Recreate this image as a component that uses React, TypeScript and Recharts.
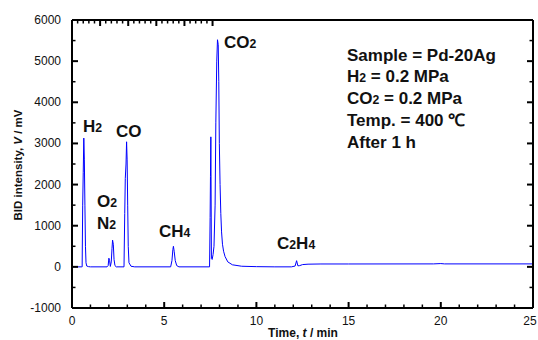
import { Line, LineChart, XAxis, YAxis } from 'recharts'

const TIME_MIN = [
  0, 0.5, 0.55, 0.58, 0.61, 0.64, 0.67, 0.7, 0.73, 0.76, 0.8, 0.9, 1.0,
  1.9, 1.96, 2.0, 2.04, 2.08, 2.13, 2.17, 2.2, 2.24, 2.28, 2.33, 2.4,
  2.82, 2.86, 2.89, 2.93, 2.96, 2.99, 3.02, 3.05, 3.09, 3.2, 3.4,
  5.35, 5.42, 5.47, 5.5, 5.54, 5.6, 5.68, 5.8,
  7.46, 7.49, 7.51, 7.53, 7.56, 7.6, 7.65, 7.7, 7.76, 7.8, 7.85, 7.89, 7.93, 7.96, 7.99,
  8.03, 8.07, 8.11, 8.16, 8.22, 8.3, 8.45, 8.7, 9.2, 10, 11,
  11.9, 12.1, 12.18, 12.25, 12.35, 12.5, 12.8, 13.5, 15, 19.6, 20, 20.2, 25,
]

const BID_MV = [
  0, 0, 0, 1500, 2300, 3130, 2600, 1500, 500, 100, 20, 5, 0,
  0, 30, 210, 150, 10, 120, 450, 650, 550, 180, 30, 0,
  0, 1300, 2150, 2500, 3040, 2600, 1500, 500, 100, 15, 0,
  0, 150, 420, 500, 380, 150, 30, 0,
  0, 1200, 2200, 3160, 200, 180, 300, 500, 1500, 3500, 5000, 5520, 5400, 4500, 3000,
  2000, 1300, 850, 550, 380, 250, 120, 50, 15, 5, 0,
  0, 20, 150, 25, 30, 55, 65, 70, 70, 72, 80, 72, 72,
]

const X_TICKS = [0, 1, 2, 3, 4, 5, 6, 7, 8, 9, 10, 11, 12, 13, 14, 15, 16, 17, 18, 19, 20, 21, 22, 23, 24, 25]
const Y_TICKS = [-1000, -500, 0, 500, 1000, 1500, 2000, 2500, 3000, 3500, 4000, 4500, 5000, 5500, 6000]

const data = TIME_MIN.map((t, i) => ({ t, v: BID_MV[i] }))

const FONT = '"Liberation Sans", Arial, sans-serif'
const INK = '#000'

const isMajorX = (v: number) => v % 5 === 0
const isMajorY = (v: number) => v % 1000 === 0

function BottomTick({ x, y, payload }: any) {
  const major = isMajorX(payload.value)
  // last label sits on the right edge, nudge it in so it is not cut
  const lx = payload.value === 25 ? x - 3 : x
  return (
    <g>
      <line x1={x} x2={x} y1={y} y2={y - (major ? 6 : 3.5)} stroke={INK} strokeWidth={major ? 2 : 1.5} />
      {major && (
        <text x={lx} y={y + 17} textAnchor="middle" fontSize={12} fontFamily={FONT} fill="#111">
          {payload.value}
        </text>
      )}
    </g>
  )
}

function TopTick({ x, y, payload }: any) {
  const major = isMajorX(payload.value)
  return <line x1={x} x2={x} y1={y} y2={y + (major ? 6 : 3.5)} stroke={INK} strokeWidth={major ? 2 : 1.5} />
}

function LeftTick({ x, y, payload }: any) {
  const major = isMajorY(payload.value)
  return (
    <g>
      <line x1={x} x2={x + (major ? 6 : 3.5)} y1={y} y2={y} stroke={INK} strokeWidth={major ? 2 : 1.5} />
      {major && (
        <text x={x - 11} y={y + 4} textAnchor="end" fontSize={12} fontFamily={FONT} fill="#111">
          {payload.value}
        </text>
      )}
    </g>
  )
}

function RightTick({ x, y, payload }: any) {
  const major = isMajorY(payload.value)
  return <line x1={x} x2={x - (major ? 6 : 3.5)} y1={y} y2={y} stroke={INK} strokeWidth={major ? 2 : 1.5} />
}

// label with a small subscript digit, e.g. H2, CO2
function Chem({ x, y, parts, size = 17 }: { x: number; y: number; parts: string[]; size?: number }) {
  return (
    <text x={x} y={y} fontSize={size} fontWeight="bold" fontFamily={FONT} fill="#111">
      {parts.map((p, i) =>
        /^\d$/.test(p) ? (
          <tspan key={i} fontSize={size * 0.72}>{p}</tspan>
        ) : (
          <tspan key={i}>{p}</tspan>
        ),
      )}
    </text>
  )
}

export default function App() {
  const axisLine = { stroke: INK, strokeWidth: 2 }
  return (
    <div style={{ position: 'absolute', left: 0, top: 0, width: 538, height: 340, background: '#fff' }}>
      <LineChart width={538} height={340} data={data} margin={{ top: 10, right: 0, bottom: 0, left: 0 }}>
        <XAxis
          dataKey="t"
          type="number"
          domain={[0, 25]}
          ticks={X_TICKS}
          interval={0}
          allowDataOverflow
          height={32}
          tickSize={0}
          tickMargin={0}
          tickLine={false}
          axisLine={axisLine}
          tick={<BottomTick />}
        />
        <XAxis
          xAxisId="top"
          orientation="top"
          type="number"
          domain={[0, 25]}
          ticks={X_TICKS}
          interval={0}
          allowDataOverflow
          height={10}
          tickSize={0}
          tickMargin={0}
          tickLine={false}
          axisLine={axisLine}
          tick={<TopTick />}
        />
        <YAxis
          type="number"
          domain={[-1000, 6000]}
          ticks={Y_TICKS}
          interval={0}
          allowDataOverflow
          width={72}
          tickSize={0}
          tickMargin={0}
          tickLine={false}
          axisLine={axisLine}
          tick={<LeftTick />}
        />
        <YAxis
          yAxisId="right"
          orientation="right"
          type="number"
          domain={[-1000, 6000]}
          ticks={Y_TICKS}
          interval={0}
          allowDataOverflow
          width={5}
          tickSize={0}
          tickMargin={0}
          tickLine={false}
          axisLine={axisLine}
          tick={<RightTick />}
        />
        <Line
          type="linear"
          dataKey="v"
          stroke="#0000ff"
          strokeWidth={1}
          dot={false}
          isAnimationActive={false}
        />
      </LineChart>
      <svg width={538} height={340} style={{ position: 'absolute', left: 0, top: 0, pointerEvents: 'none' }}>
        <Chem x={83} y={132} parts={['H', '2']} />
        <Chem x={97} y={207} parts={['O', '2']} />
        <Chem x={97} y={229} parts={['N', '2']} />
        <Chem x={116} y={137} parts={['CO']} />
        <Chem x={159} y={237} parts={['CH', '4']} />
        <Chem x={224} y={48} parts={['CO', '2']} />
        <Chem x={277} y={249} parts={['C', '2', 'H', '4']} />

        <Chem x={347} y={61} parts={['Sample = Pd-20Ag']} />
        <Chem x={347} y={82} parts={['H', '2', ' = 0.2 MPa']} />
        <Chem x={347} y={104} parts={['CO', '2', ' = 0.2 MPa']} />
        <Chem x={347} y={126} parts={['Temp. = 400 ℃']} />
        <Chem x={347} y={148} parts={['After 1 h']} />

        <text x={303} y={337} textAnchor="middle" fontSize={12} fontWeight="bold" fontFamily={FONT} fill="#111">
          Time, <tspan fontStyle="italic">t</tspan> / min
        </text>
        <text
          transform="translate(22,165) rotate(-90)"
          textAnchor="middle"
          fontSize={11.5}
          fontWeight="bold"
          fontFamily={FONT}
          fill="#111"
        >
          BID intensity, <tspan fontStyle="italic">V</tspan> / mV
        </text>
      </svg>
    </div>
  )
}
